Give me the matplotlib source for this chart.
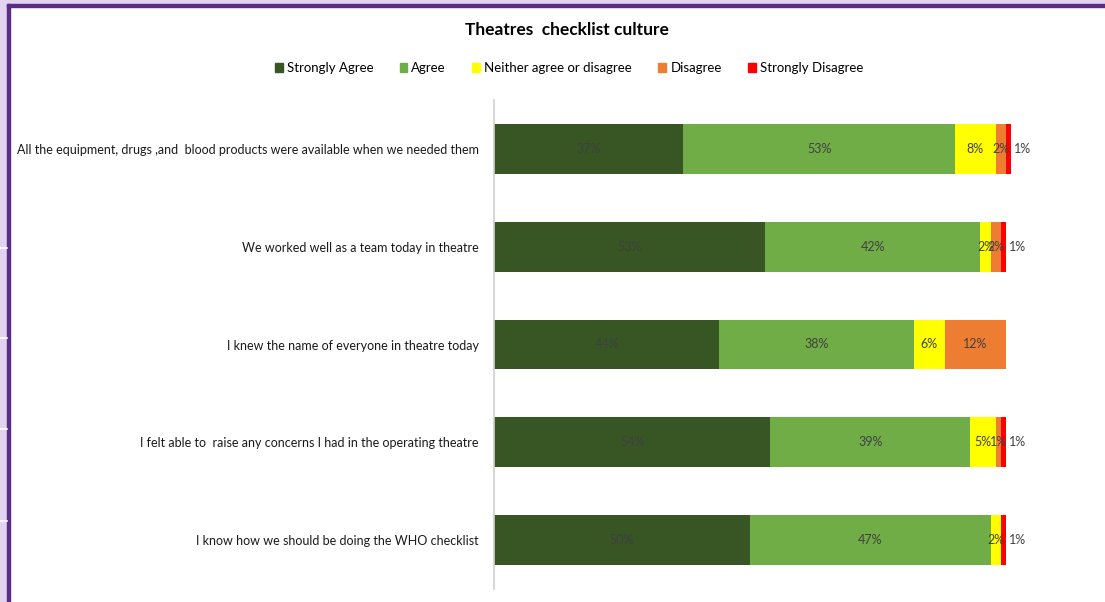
import matplotlib
matplotlib.use("Agg")
import matplotlib.pyplot as plt
from matplotlib.patches import Rectangle
from matplotlib.lines import Line2D
import numpy as np

plt.rcParams['font.family'] = ['Lato', 'DejaVu Sans']

categories = [
    "All the equipment, drugs ,and  blood products were available when we needed them",
    "We worked well as a team today in theatre",
    "I knew the name of everyone in theatre today",
    "I felt able to  raise any concerns I had in the operating theatre",
    "I know how we should be doing the WHO checklist",
]
series_names = ["Strongly Agree", "Agree", "Neither agree or disagree", "Disagree", "Strongly Disagree"]
strongly_agree = [37, 53, 44, 54, 50]
agree = [53, 42, 38, 39, 47]
neither = [8, 2, 6, 5, 2]
disagree = [2, 2, 12, 1, 0]
strongly_disagree = [1, 1, 0, 1, 1]
colors = ["#375623", "#70ad47", "#ffff00", "#ed7d31", "#ff0000"]

W, H = 1105, 602
fig = plt.figure(figsize=(W / 100, H / 100), dpi=100)
fig.patch.set_facecolor("white")

# frame decoration: lavender strips with purple rule
fig.add_artist(Rectangle((0, 0), 8 / W, 1, transform=fig.transFigure, color="#e2d3f0", zorder=0))
fig.add_artist(Rectangle((0, 1 - 5 / H), 1, 5 / H, transform=fig.transFigure, color="#e2d3f0", zorder=0))
fig.add_artist(Rectangle((7 / W, 0), 2.5 / W, 1 - 4 / H, transform=fig.transFigure, color="#5b2c83", zorder=1))
fig.add_artist(Rectangle((7 / W, 1 - 6.5 / H), 1 - 7 / W, 2.5 / H, transform=fig.transFigure, color="#5b2c83", zorder=1))
for yp in [248, 338, 429, 521]:
    fig.add_artist(Line2D([0, 7 / W], [1 - yp / H] * 2, transform=fig.transFigure, color="white", lw=1.2, zorder=2))

ax = fig.add_axes([494 / W, 13 / H, 512 / W, 489 / H])
data = [strongly_agree, agree, neither, disagree, strongly_disagree]
y = np.arange(len(categories))
left = np.zeros(len(categories))
for i, (vals, name, c) in enumerate(zip(data, series_names, colors)):
    vals = np.array(vals, dtype=float)
    ax.barh(y, vals, left=left, height=0.51, color=c, label=name, edgecolor="none", clip_on=False)
    for j, v in enumerate(vals):
        if v <= 0:
            continue
        if i == 4:
            ax.text(left[j] + v + 0.6, y[j], f"{int(v)}%", ha="left", va="center", fontsize=9, color="#404040")
        else:
            ax.text(left[j] + v / 2, y[j], f"{int(v)}%", ha="center", va="center", fontsize=9, color="#404040")
    left += vals

ax.set_xlim(0, 100)
ax.set_ylim(len(categories) - 0.5, -0.5)
ax.set_yticks(y)
ax.set_yticklabels(categories, fontsize=9, color="#1a1a1a")
ax.tick_params(axis="y", length=0, pad=11)
ax.set_xticks([])
for s in ["top", "right", "bottom"]:
    ax.spines[s].set_visible(False)
ax.spines["left"].set_color("#d0d0d0")
ax.spines["left"].set_linewidth(1.2)
ax.patch.set_alpha(0)

fig.text(567 / W, 1 - 30 / H, "Theatres  checklist culture", ha="center", va="center", fontsize=12.5, fontweight="bold")

handles = [Rectangle((0, 0), 1, 1, color=c) for c in colors]
fig.legend(handles, series_names, loc="center", bbox_to_anchor=(569 / W, 1 - 68 / H), ncol=5, frameon=False,
           fontsize=9.5, handlelength=0.6, handleheight=0.6, handletextpad=0.3, columnspacing=2.0)

fig.savefig("out.png", dpi=100)
